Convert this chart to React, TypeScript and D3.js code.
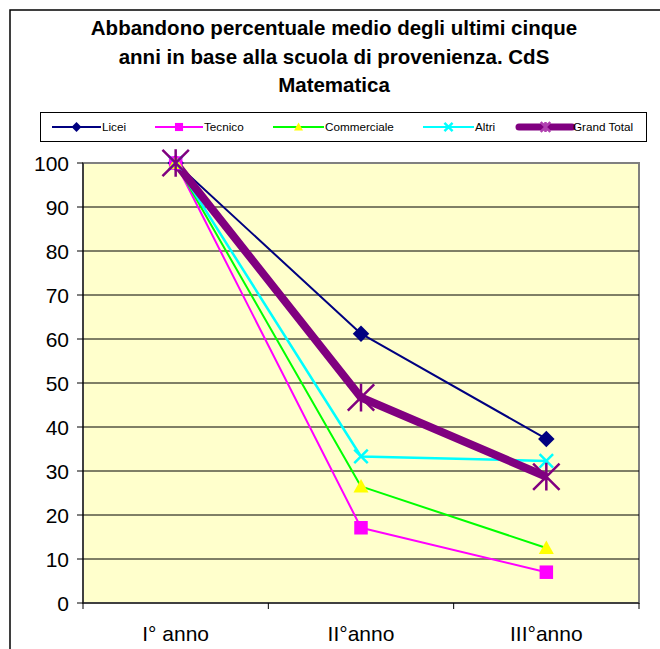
import React from "react";
import * as d3 from "d3";

const categories = ["I° anno", "II°anno", "III°anno"];
const seriesNames = ["Licei", "Tecnico", "Commerciale", "Altri", "Grand Total"];
const licei = [100, 61.2, 37.3];
const tecnico = [100, 17.1, 7.0];
const commerciale = [100, 26.5, 12.5];
const altri = [100, 33.3, 32.3];
const grandTotal = [100, 46.7, 28.7];
const yTicks = [0, 10, 20, 30, 40, 50, 60, 70, 80, 90, 100];
const titleLines = [
  "Abbandono percentuale medio degli ultimi cinque",
  "anni in base alla scuola di provenienza. CdS",
  "Matematica",
];

const seriesValues = [licei, tecnico, commerciale, altri, grandTotal];
const styles = [
  { color: "#000080", width: 2, marker: "diamond", fill: "#000080" },
  { color: "#FF00FF", width: 2, marker: "square", fill: "#FF00FF" },
  { color: "#00FF00", width: 2, marker: "triangle", fill: "#FFFF00" },
  { color: "#00FFFF", width: 2.5, marker: "x", fill: "none" },
  { color: "#800080", width: 8, marker: "star", fill: "none" },
];

function Marker({ type, x, y, color, fill, s }: any) {
  if (type === "diamond") {
    const r = s * 0.55;
    return <path d={`M${x},${y - r}L${x + r},${y}L${x},${y + r}L${x - r},${y}Z`} fill={fill} />;
  }
  if (type === "square") {
    const r = s * 0.45;
    return <rect x={x - r} y={y - r} width={2 * r} height={2 * r} fill={fill} />;
  }
  if (type === "triangle") {
    const r = s * 0.5;
    return <path d={`M${x},${y - r}L${x + r},${y + r * 0.8}L${x - r},${y + r * 0.8}Z`} fill={fill} />;
  }
  if (type === "x") {
    const r = s * 0.45;
    return (
      <path d={`M${x - r},${y - r}L${x + r},${y + r}M${x - r},${y + r}L${x + r},${y - r}`} stroke={color} strokeWidth={2.5} fill="none" />
    );
  }
  const r = s * 0.6;
  return (
    <path
      d={`M${x - r},${y - r}L${x + r},${y + r}M${x - r},${y + r}L${x + r},${y - r}M${x},${y - r * 1.05}L${x},${y + r * 1.05}`}
      stroke={color}
      strokeWidth={2.5}
      fill="none"
    />
  );
}

export default function App() {
  const W = 660, H = 649;
  const left = 83, right = 639, top = 163, bottom = 603;
  const x = d3.scaleBand<string>().domain(categories).range([left, right]);
  const y = d3.scaleLinear().domain([0, 100]).range([bottom, top]);
  const line = d3
    .line<number>()
    .x((_, i) => (x(categories[i]) as number) + x.bandwidth() / 2)
    .y((d) => y(d));
  const font = "Arial, 'Liberation Sans', sans-serif";
  const legendX = [52, 155, 273, 423, 519];
  const legendLen = [49, 48, 51, 51, 53];
  const xTickPos = [...categories.map((c) => x(c) as number), right];

  return (
    <svg width={W} height={H} style={{ position: "absolute", left: 0, top: 0 }} fontFamily={font}>
      <rect x={0} y={0} width={W} height={H} fill="#fff" />
      <rect x={10} y={10} width={W + 20} height={H + 20} fill="#fff" stroke="#000" strokeWidth={1.5} />
      {titleLines.map((t, i) => (
        <text key={i} x={334} y={35 + i * 28.5} textAnchor="middle" fontSize={20.5} fontWeight="bold">
          {t}
        </text>
      ))}
      {/* legend */}
      <rect x={40.5} y={112.5} width={606} height={29} fill="#fff" stroke="#000" strokeWidth={1} />
      {seriesNames.map((n, i) => {
        const st = styles[i];
        const x0 = legendX[i];
        const cy = 127;
        return (
          <g key={n}>
            <line x1={x0} x2={x0 + legendLen[i]} y1={cy} y2={cy} stroke={st.color} strokeWidth={i === 4 ? 7 : 2} strokeLinecap={i === 4 ? "round" : "butt"} />
            <Marker type={st.marker} x={x0 + legendLen[i] / 2} y={cy} color={i === 4 ? "#b040b0" : st.color} fill={st.fill} s={i === 4 ? 8 : 9} />
            <text x={x0 + legendLen[i] + 1} y={cy + 4} fontSize={11.7}>
              {n}
            </text>
          </g>
        );
      })}
      {/* plot area */}
      <rect x={left} y={top} width={right - left} height={bottom - top} fill="#FFFFCC" stroke="#808080" strokeWidth={2} />
      {yTicks.filter((t) => t > 0 && t < 100).map((t) => (
        <line key={t} x1={left} x2={right} y1={y(t)} y2={y(t)} stroke="#000" strokeWidth={1} />
      ))}
      <line x1={left} x2={left} y1={top} y2={bottom} stroke="#000" strokeWidth={1} />
      <line x1={left} x2={right} y1={bottom} y2={bottom} stroke="#000" strokeWidth={1} />
      {yTicks.map((t) => (
        <g key={t}>
          <line x1={left - 6} x2={left} y1={y(t)} y2={y(t)} stroke="#000" />
          <text x={left - 14} y={y(t) + 7.5} textAnchor="end" fontSize={21}>
            {t}
          </text>
        </g>
      ))}
      {xTickPos.map((p, i) => (
        <line key={i} x1={p} x2={p} y1={bottom} y2={bottom + 6} stroke="#000" />
      ))}
      {categories.map((c) => (
        <text key={c} x={(x(c) as number) + x.bandwidth() / 2} y={641} textAnchor="middle" fontSize={21}>
          {c}
        </text>
      ))}
      {/* series */}
      {seriesValues.map((vals, si) => (
        <path key={si} d={line(vals) as string} fill="none" stroke={styles[si].color} strokeWidth={styles[si].width} strokeLinejoin="round" />
      ))}
      {seriesValues.map((vals, si) =>
        vals.map((v, i) => (
          <Marker
            key={si + "-" + i}
            type={styles[si].marker}
            x={(x(categories[i]) as number) + x.bandwidth() / 2}
            y={y(v)}
            color={styles[si].color}
            fill={styles[si].fill}
            s={si === 4 ? 22 : 15}
          />
        ))
      )}
    </svg>
  );
}
